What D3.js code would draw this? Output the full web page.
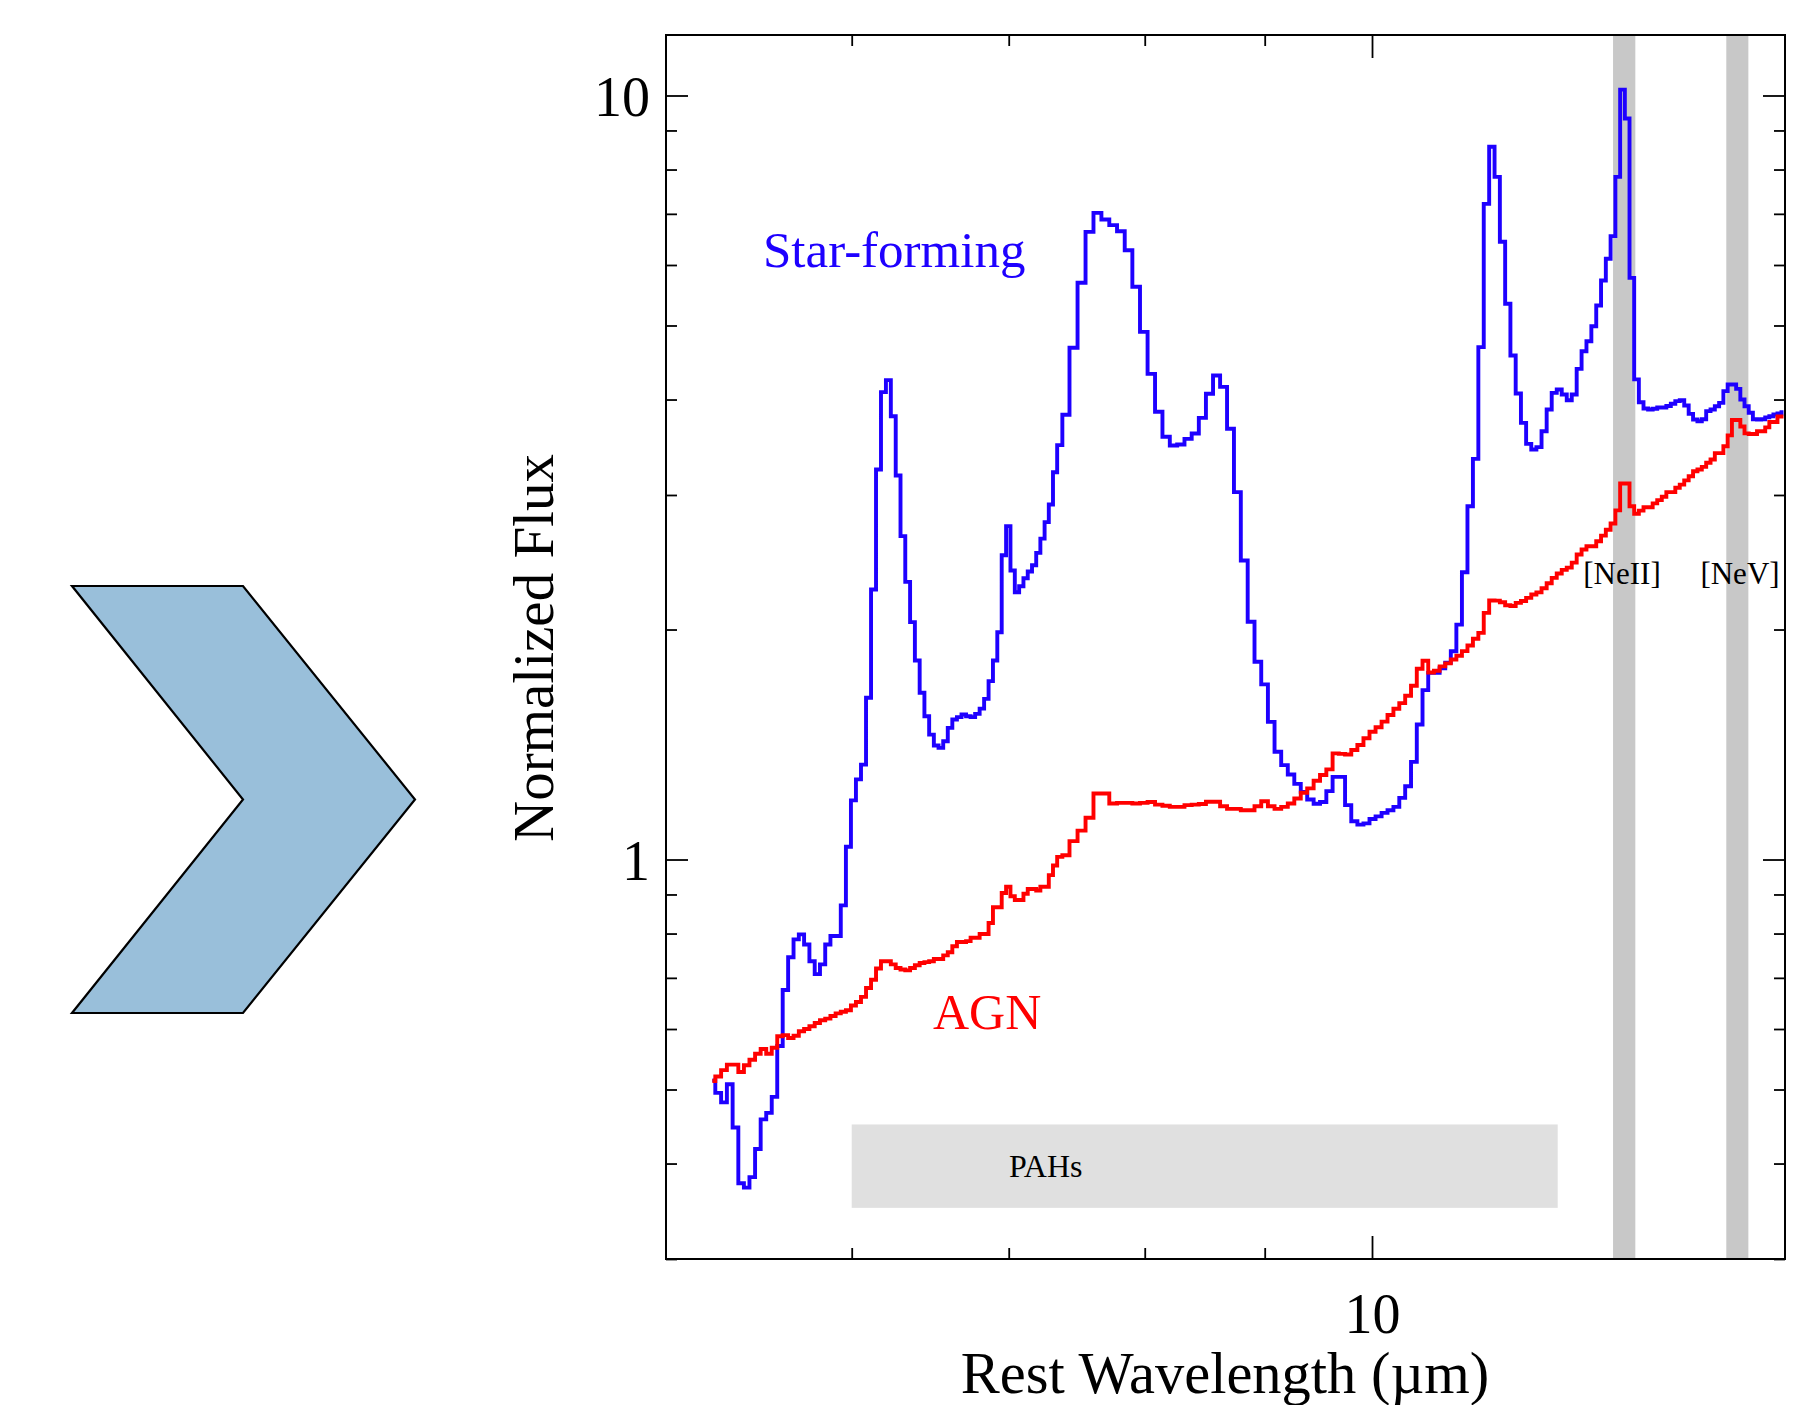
<!DOCTYPE html>
<html><head><meta charset="utf-8">
<script src="https://cdn.jsdelivr.net/npm/d3@7"></script>
<style>
html,body{margin:0;padding:0;background:#fff;}
svg{display:block;}
text{font-family:"Liberation Serif","Times New Roman",Times,serif;}
</style></head><body>
<svg id="chart" width="1818" height="1405"></svg>
<script>
// Bin-centre wavelengths (micron)
const wavelength = [
5.233,5.263,5.293,5.323,5.353,5.383,5.412,5.442,5.472,5.502,
5.532,5.562,5.592,5.622,5.652,5.682,5.711,5.741,5.771,5.801,
5.831,5.861,5.891,5.921,5.951,5.981,6.010,6.040,6.070,6.100,
6.130,6.160,6.190,6.220,6.250,6.280,6.309,6.339,6.369,6.399,
6.429,6.459,6.489,6.519,6.549,6.579,6.608,6.638,6.668,6.698,
6.728,6.758,6.788,6.818,6.848,6.878,6.907,6.937,6.967,6.997,
7.027,7.057,7.087,7.117,7.147,7.177,7.206,7.236,7.266,7.296,
7.326,7.356,
7.401,7.460,7.519,7.578,7.637,7.697,7.756,7.815,7.874,7.933,
7.993,8.052,8.111,8.170,8.229,8.289,8.348,8.407,8.466,8.525,
8.585,8.644,8.703,8.762,8.821,8.881,8.940,8.999,9.058,9.117,
9.177,9.236,9.295,9.354,9.413,9.473,9.532,9.591,9.650,9.709,
9.769,9.828,9.887,9.946,10.005,10.065,10.124,10.183,10.242,10.301,
10.361,10.420,10.479,10.538,10.597,10.657,10.716,10.775,10.834,10.893,
10.953,11.012,11.071,11.130,11.189,11.249,11.308,11.367,11.426,11.485,
11.545,11.604,11.663,11.722,11.781,11.841,11.900,11.959,12.018,12.077,
12.137,12.196,12.255,12.314,12.373,12.433,12.492,12.551,12.610,12.669,
12.729,12.788,12.847,12.906,12.965,13.025,13.084,13.143,13.202,13.261,
13.321,13.380,13.439,13.498,13.557,13.617,13.676,13.735,13.794,13.853,
13.913,13.972,14.031,14.090,14.149,14.209,14.268,14.327,14.386,14.445,
14.505,14.564,14.623,14.682,14.741,14.801,14.860,14.919,14.978
];

// Star-forming template (normalized flux)
const starForming = [
0.514,0.495,0.481,0.508,0.446,0.377,0.372,0.384,0.418,0.457,
0.466,0.489,0.570,0.675,0.745,0.786,0.798,0.774,0.736,0.708,
0.729,0.774,0.794,0.794,0.871,1.039,1.195,1.273,1.331,1.628,
2.256,3.239,4.090,4.241,3.803,3.181,2.650,2.309,2.045,1.822,
1.653,1.540,1.457,1.410,1.400,1.428,1.487,1.525,1.536,1.548,
1.540,1.536,1.551,1.576,1.623,1.712,1.822,1.984,2.502,2.731,
2.389,2.238,2.279,2.334,2.382,2.428,2.520,2.630,2.764,2.915,
3.213,3.486,
3.820,4.675,5.687,6.630,7.021,6.881,6.765,6.643,6.273,5.618,
4.905,4.322,3.855,3.575,3.483,3.493,3.553,3.611,3.785,4.070,
4.300,4.156,3.662,3.026,2.462,2.047,1.815,1.695,1.514,1.384,
1.329,1.292,1.256,1.226,1.198,1.183,1.189,1.229,1.283,1.283,
1.178,1.122,1.111,1.115,1.130,1.139,1.151,1.160,1.172,1.204,
1.247,1.342,1.502,1.666,1.755,1.755,1.780,1.810,1.873,2.030,
2.377,2.900,3.345,4.684,7.214,8.568,7.826,6.434,5.338,4.567,
4.073,3.728,3.500,3.440,3.465,3.636,3.882,4.081,4.123,4.061,
3.992,4.061,4.387,4.627,4.769,4.989,5.311,5.727,6.113,6.545,
7.826,10.18,9.330,5.772,4.250,3.968,3.894,3.882,3.890,3.905,
3.905,3.922,3.950,3.981,3.992,3.929,3.831,3.766,3.747,3.770,
3.863,3.882,3.920,3.960,4.102,4.185,4.185,4.131,4.000,3.920,
3.843,3.770,3.766,3.770,3.790,3.803,3.823,3.835,3.850
];

// AGN template (normalized flux)
const agn = [
0.513,0.520,0.530,0.539,0.539,0.527,0.538,0.547,0.557,0.565,
0.557,0.567,0.587,0.589,0.584,0.588,0.596,0.600,0.605,0.611,
0.616,0.619,0.624,0.629,0.632,0.635,0.644,0.651,0.661,0.679,
0.696,0.720,0.736,0.736,0.729,0.721,0.718,0.716,0.721,0.727,
0.732,0.734,0.736,0.741,0.741,0.749,0.756,0.770,0.780,0.780,
0.782,0.790,0.790,0.799,0.799,0.826,0.866,0.866,0.904,0.921,
0.895,0.885,0.885,0.902,0.915,0.915,0.911,0.921,0.921,0.954,
0.982,1.008,
1.013,1.057,1.091,1.134,1.220,1.220,1.184,1.186,1.186,1.184,
1.186,1.189,1.180,1.176,1.172,1.172,1.178,1.180,1.182,1.190,
1.190,1.174,1.165,1.165,1.160,1.160,1.174,1.192,1.174,1.165,
1.172,1.184,1.202,1.223,1.239,1.268,1.290,1.312,1.377,1.375,
1.372,1.391,1.412,1.441,1.470,1.490,1.515,1.546,1.575,1.602,
1.638,1.688,1.777,1.820,1.757,1.766,1.790,1.806,1.827,1.848,
1.874,1.906,1.945,1.980,2.103,2.183,2.182,2.171,2.152,2.147,
2.167,2.180,2.200,2.223,2.237,2.265,2.299,2.337,2.368,2.394,
2.410,2.447,2.507,2.545,2.570,2.570,2.609,2.654,2.701,2.753,
2.864,3.106,3.106,2.900,2.835,2.862,2.891,2.891,2.925,2.954,
2.984,3.026,3.026,3.066,3.095,3.135,3.174,3.222,3.240,3.265,
3.306,3.339,3.403,3.403,3.475,3.590,3.760,3.760,3.687,3.612,
3.605,3.605,3.636,3.636,3.678,3.738,3.738,3.800,3.800
];

const yMajorTicks = [1, 10];
const yMinorTicks = [0.3, 0.4, 0.5, 0.6, 0.7, 0.8, 0.9, 2, 3, 4, 5, 6, 7, 8, 9];
const xMajorTicks = [10];
const xMinorTicks = [6, 7, 8, 9];

const pahRegion = [6, 12];          // wavelength range
const pahFlux = [0.35, 0.45];       // flux range of the shaded label box
const lineNames = ["[NeII]", "[NeV]"];
const lineLo = [12.67, 14.16];
const lineHi = [12.95, 14.47];

const svg = d3.select("#chart");
const L = 666, R = 1785, T = 35, B = 1259;
const x = d3.scaleLog().domain([5, 15]).range([L, R]);
const y = d3.scaleLog().domain([0.3, 12]).range([B, T]);

// Chevron decoration
svg.append("polygon")
  .attr("points", [[72,586],[243,586],[415,799.5],[243,1013],[72,1013],[243,799.5]].map(p=>p.join(",")).join(" "))
  .attr("fill", "#99bfda").attr("stroke", "#000").attr("stroke-width", 2.2)
  .attr("stroke-linejoin", "miter");

svg.append("defs").append("clipPath").attr("id","plotclip")
  .append("rect").attr("x", L).attr("y", T).attr("width", R-L).attr("height", B-T);

const plot = svg.append("g").attr("clip-path", "url(#plotclip)");

// PAH box
plot.append("rect")
  .attr("x", x(pahRegion[0])).attr("width", x(pahRegion[1]) - x(pahRegion[0]))
  .attr("y", y(pahFlux[1])).attr("height", y(pahFlux[0]) - y(pahFlux[1]))
  .attr("fill", "#e0e0e0");

// Emission-line bands
plot.selectAll("rect.band").data(lineNames).enter().append("rect")
  .attr("class","band")
  .attr("x", (d,i) => x(lineLo[i]))
  .attr("width", (d,i) => x(lineHi[i]) - x(lineLo[i]))
  .attr("y", T).attr("height", B - T)
  .attr("fill", "#c8c8c8");

const sfData = wavelength.map((w,i) => ({w, f: starForming[i]}));
const agnData = wavelength.map((w,i) => ({w, f: agn[i]}));
const line = d3.line().x(d => x(d.w)).y(d => y(d.f)).curve(d3.curveStep);

plot.append("path").datum(sfData).attr("d", line)
  .attr("fill","none").attr("stroke","#1e00ff").attr("stroke-width",3.9);
plot.append("path").datum(agnData).attr("d", line)
  .attr("fill","none").attr("stroke","#ff0000").attr("stroke-width",3.9);

// Frame
svg.append("rect").attr("x", L).attr("y", T).attr("width", R-L).attr("height", B-T)
  .attr("fill","none").attr("stroke","#000").attr("stroke-width",2);

function styleAxis(g){
  g.select(".domain").remove();
  g.selectAll(".tick line").attr("stroke","#000").attr("stroke-width",1.8);
  g.selectAll("text").attr("font-family",'"Liberation Serif","Times New Roman",serif')
    .attr("font-size",56).attr("fill","#000");
}
const fmt = d => String(d);

// Left axis
svg.append("g").attr("transform",`translate(${L},0)`)
  .call(d3.axisLeft(y).tickValues(yMajorTicks).tickFormat(fmt).tickSize(-22).tickPadding(16))
  .call(styleAxis).call(g => g.selectAll("text").attr("dy","0.35em"));
svg.append("g").attr("transform",`translate(${L},0)`)
  .call(d3.axisLeft(y).tickValues(yMinorTicks).tickFormat("").tickSize(-11))
  .call(styleAxis);
// Right axis
svg.append("g").attr("transform",`translate(${R},0)`)
  .call(d3.axisRight(y).tickValues(yMajorTicks).tickFormat("").tickSize(-22))
  .call(styleAxis);
svg.append("g").attr("transform",`translate(${R},0)`)
  .call(d3.axisRight(y).tickValues(yMinorTicks).tickFormat("").tickSize(-11))
  .call(styleAxis);
// Bottom axis
svg.append("g").attr("transform",`translate(0,${B})`)
  .call(d3.axisBottom(x).tickValues(xMajorTicks).tickFormat(fmt).tickSize(-23).tickPadding(34))
  .call(styleAxis);
svg.append("g").attr("transform",`translate(0,${B})`)
  .call(d3.axisBottom(x).tickValues(xMinorTicks).tickFormat("").tickSize(-11))
  .call(styleAxis);
// Top axis
svg.append("g").attr("transform",`translate(0,${T})`)
  .call(d3.axisTop(x).tickValues(xMajorTicks).tickFormat("").tickSize(-23))
  .call(styleAxis);
svg.append("g").attr("transform",`translate(0,${T})`)
  .call(d3.axisTop(x).tickValues(xMinorTicks).tickFormat("").tickSize(-11))
  .call(styleAxis);

// Axis titles
svg.append("text").attr("transform","translate(553,648) rotate(-90)")
  .attr("text-anchor","middle").attr("font-size",57).text("Normalized Flux");
svg.append("text").attr("x",1225).attr("y",1393)
  .attr("text-anchor","middle").attr("font-size",58.5).text("Rest Wavelength (\u00b5m)");

// Annotations
svg.append("text").attr("x",763).attr("y",267).attr("font-size",51)
  .attr("fill","#1e00ff").text("Star-forming");
svg.append("text").attr("x",933).attr("y",1029).attr("font-size",50)
  .attr("fill","#ff0000").text("AGN");
svg.append("text").attr("x",1009).attr("y",1177).attr("font-size",32)
  .attr("fill","#000").text("PAHs");
svg.selectAll("text.lbl").data(lineNames).enter().append("text")
  .attr("class","lbl")
  .attr("x",(d,i)=> i===0 ? 1622 : 1740).attr("y",584)
  .attr("text-anchor","middle").attr("font-size",31).attr("fill","#000").text(d=>d);
</script>
</body></html>
